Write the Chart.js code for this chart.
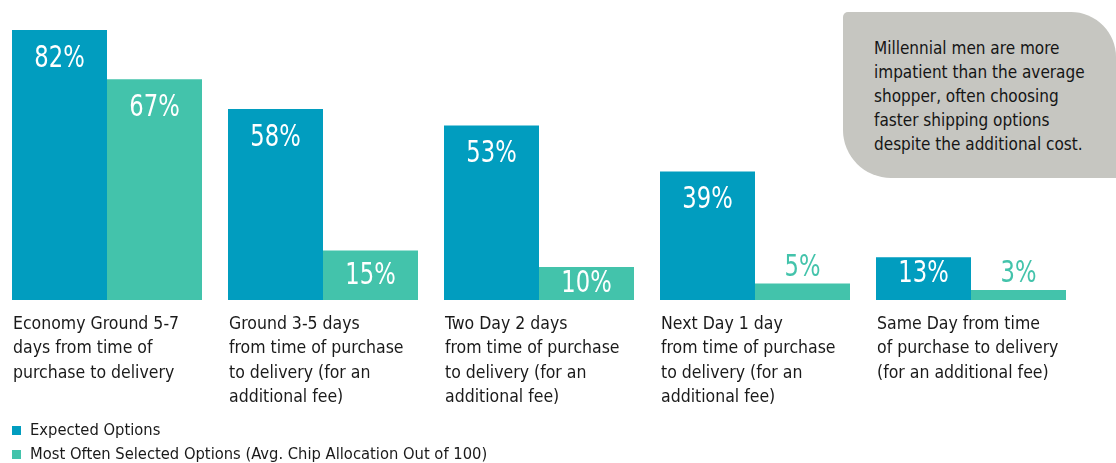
<!DOCTYPE html>
<html>
<head>
<meta charset="utf-8">
<script src="https://cdn.jsdelivr.net/npm/chart.js@4.4.0/dist/chart.umd.min.js"></script>
<style>
    html, body { margin: 0; padding: 0; background: #fff; width: 1116px; height: 463px; overflow: hidden; }
    #wrap { position: absolute; left: -1px; top: 0; width: 1117px; height: 463px; }
    .note {
        position: absolute; left: 843px; top: 12px; width: 273px; height: 166px;
        background: #c6c6c1; border-radius: 5px 45px 0 48px;
        font-family: "DejaVu Sans Condensed", "DejaVu Sans", sans-serif; font-size: 17px;
        line-height: 24px; color: #151515; box-sizing: border-box; padding: 24px 0 0 31px;
    }
    .legend { position: absolute; left: 12px; top: 418px; font-family: "DejaVu Sans Condensed", "DejaVu Sans", sans-serif;
        font-size: 16.4px; line-height: 24px; color: #1a1a1a; }
    .legend div { position: relative; padding-left: 18px; white-space: nowrap; }
    .legend span { position: absolute; left: 0; top: 8px; width: 9px; height: 9px; }
</style>
</head>
<body>
<div id="wrap"><canvas id="chart" width="1117" height="463"></canvas></div>
<div class="note">Millennial men are more<br>impatient than the average<br>shopper, often choosing<br>faster shipping options<br>despite the additional cost.</div>
<div class="legend">
    <div><span style="background:#019dbf"></span>Expected Options</div>
    <div><span style="background:#43c3ab"></span>Most Often Selected Options (Avg. Chip Allocation Out of 100)</div>
</div>
<script>
// --- data ---
const categories = [
    ['Economy Ground 5-7', 'days from time of', 'purchase to delivery'],
    ['Ground 3-5 days', 'from time of purchase', 'to delivery (for an', 'additional fee)'],
    ['Two Day 2 days', 'from time of purchase', 'to delivery (for an', 'additional fee)'],
    ['Next Day 1 day', 'from time of purchase', 'to delivery (for an', 'additional fee)'],
    ['Same Day from time', 'of purchase to delivery', '(for an additional fee)']
];
const expected = [82, 58, 53, 39, 13];
const selected = [67, 15, 10, 5, 3];
const seriesNames = ['Expected Options', 'Most Often Selected Options (Avg. Chip Allocation Out of 100)'];

const BLUE = '#019dbf';
const TEAL = '#43c3ab';
const LABEL_FONT = '"DejaVu Sans Condensed", "DejaVu Sans", sans-serif';
const VALUE_FONT = '"DejaVu Sans Condensed", "DejaVu Sans", sans-serif';

// narrow, tall figures like the original's condensed face
function drawNarrow(ctx, txt, x, y) {
    ctx.save();
    ctx.translate(x, y);
    ctx.scale(0.84, 1);
    ctx.fillText(txt, 0, 0);
    ctx.restore();
}

// value labels: white inside tall bars, teal above short ones
const valueLabels = {
    id: 'valueLabels',
    afterDatasetsDraw(chart) {
        const ctx = chart.ctx;
        ctx.save();
        ctx.font = '30px ' + VALUE_FONT;
        ctx.textAlign = 'center';
        chart.data.datasets.forEach((ds, d) => {
            chart.getDatasetMeta(d).data.forEach((bar, i) => {
                const h = bar.base - bar.y;
                const txt = ds.data[i] + '%';
                if (h < 25) {
                    ctx.fillStyle = TEAL;
                    ctx.textBaseline = 'alphabetic';
                    drawNarrow(ctx, txt, bar.x, bar.y - 8);
                } else {
                    ctx.fillStyle = '#fff';
                    ctx.textBaseline = 'middle';
                    const off = h >= 48 ? Math.min(28, h / 2) : 16;
                    drawNarrow(ctx, txt, bar.x, bar.y + off + 1);
                }
            });
        });
        ctx.restore();
    }
};

// category labels, left aligned under each group
const categoryLabels = {
    id: 'categoryLabels',
    afterDraw(chart) {
        const ctx = chart.ctx;
        const bars = chart.getDatasetMeta(0).data;
        ctx.save();
        ctx.font = '17.5px ' + LABEL_FONT;
        ctx.fillStyle = '#1a1a1a';
        ctx.textAlign = 'left';
        ctx.textBaseline = 'middle';
        bars.forEach((bar, i) => {
            const left = bar.x - bar.width / 2;
            categories[i].forEach((line, j) => {
                ctx.fillText(line, left + 1, chart.chartArea.bottom + 24 + j * 24.5);
            });
        });
        ctx.restore();
    }
};

new Chart(document.getElementById('chart'), {
    type: 'bar',
    data: {
        labels: categories.map(c => c.join(' ')),
        datasets: [
            { label: seriesNames[0], data: expected, backgroundColor: BLUE },
            { label: seriesNames[1], data: selected, backgroundColor: TEAL }
        ]
    },
    options: {
        responsive: false,
        devicePixelRatio: 1,
        animation: false,
        categoryPercentage: 190 / 216,
        barPercentage: 1,
        layout: { padding: { left: 0, right: 37, top: 0, bottom: 163 } },
        plugins: {
            legend: { display: false },
            tooltip: { enabled: false }
        },
        scales: {
            x: { display: false },
            y: { display: false, min: 0, max: 91.1 }
        }
    },
    plugins: [valueLabels, categoryLabels]
});
</script>
</body>
</html>
